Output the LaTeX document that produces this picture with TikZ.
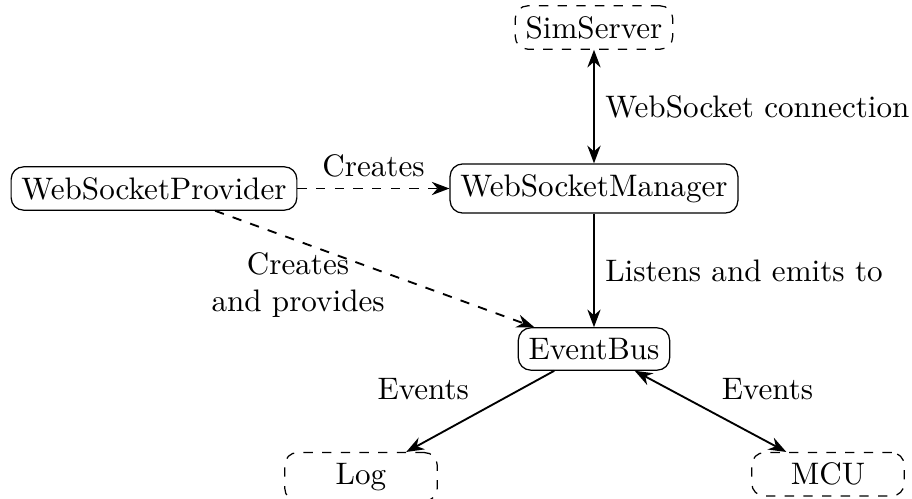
\documentclass[tikz,border=0pt]{standalone}
\usetikzlibrary{arrows.meta}
\begin{document}
\begin{tikzpicture}[x=0.3215pt,y=-0.3215pt,
  box/.style={draw, rounded corners=4pt, line width=0.4pt, inner sep=3.33pt},
  compbox/.style={box},
  extbox/.style={box, dashed, minimum width=49pt},
  link/.style={semithick, -{Stealth}},
  bilink/.style={semithick, {Stealth}-{Stealth}}]
  \useasboundingbox (0,0) rectangle (912,499);

  % components
  \node[compbox] (prov) at (154,188.5) {WebSocketProvider};
  \node[compbox] (mgr)  at (594,188.5) {WebSocketManager};
  \node[compbox] (bus)  at (594,349)   {EventBus};

  % external endpoints
  \node[extbox] (sim) at (594,27.5) {SimServer};
  \node[extbox, anchor=north] (log) at (361,452) {Log};
  \node[extbox, anchor=north] (mcu) at (828,452) {MCU};

  % connections
  \draw[bilink] (sim) -- node[right] {WebSocket connection} (mgr);
  \draw[link] (mgr) -- node[right] {Listens and emits to} (bus);
  \draw[link, dashed] (prov) -- node[above] {Creates} (mgr);
  \draw[link, dashed] (prov) -- node[pos=0.26, below, align=center] {Creates\\and provides} (bus);
  \draw[link] (bus) -- node[above left] {Events} (log);
  \draw[bilink] (bus) -- node[above right] {Events} (mcu);
\end{tikzpicture}
\end{document}
